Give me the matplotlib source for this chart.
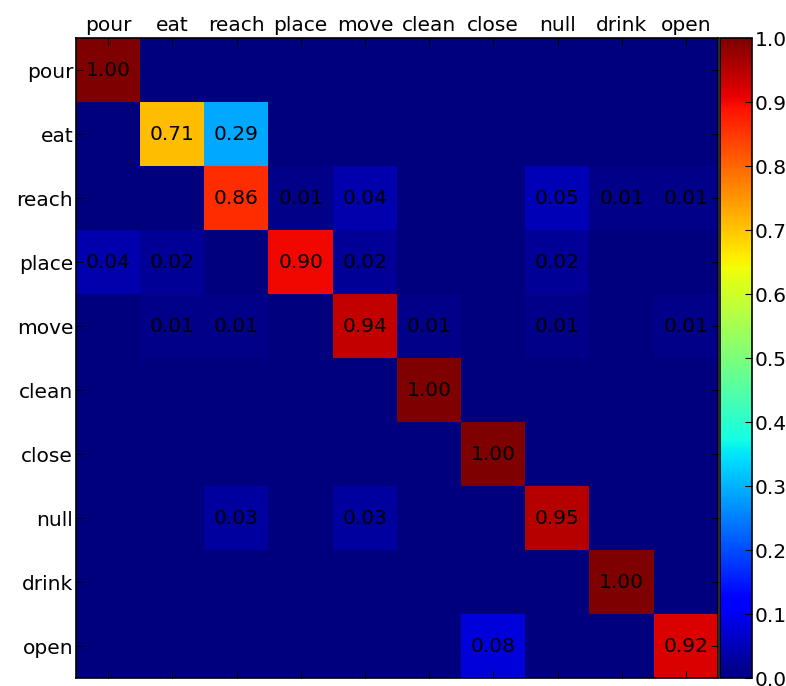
import numpy as np
import matplotlib
matplotlib.use("Agg")
import matplotlib.pyplot as plt

labels = ["pour", "eat", "reach", "place", "move", "clean", "close", "null", "drink", "open"]

row_pour  = [1.00, 0, 0, 0, 0, 0, 0, 0, 0, 0]
row_eat   = [0, 0.71, 0.29, 0, 0, 0, 0, 0, 0, 0]
row_reach = [0, 0, 0.86, 0.01, 0.04, 0, 0, 0.05, 0.01, 0.01]
row_place = [0.04, 0.02, 0, 0.90, 0.02, 0, 0, 0.02, 0, 0]
row_move  = [0, 0.01, 0.01, 0, 0.94, 0.01, 0, 0.01, 0, 0.01]
row_clean = [0, 0, 0, 0, 0, 1.00, 0, 0, 0, 0]
row_close = [0, 0, 0, 0, 0, 0, 1.00, 0, 0, 0]
row_null  = [0, 0, 0.03, 0, 0.03, 0, 0, 0.95, 0, 0]
row_drink = [0, 0, 0, 0, 0, 0, 0, 0, 1.00, 0]
row_open  = [0, 0, 0, 0, 0, 0, 0.08, 0, 0, 0.92]

cm = np.array([row_pour, row_eat, row_reach, row_place, row_move,
               row_clean, row_close, row_null, row_drink, row_open])

fig = plt.figure(figsize=(7.86, 6.86), dpi=100)
ax = fig.add_axes([76/786, 8/686, 642/786, 640/686])
cax = fig.add_axes([720/786, 8/686, 32/786, 640/686])

im = ax.imshow(cm, cmap="jet", vmin=0, vmax=1, interpolation="nearest", aspect="auto")
n = len(labels)
fs = 14.5
ax.set_xticks(range(n))
ax.set_yticks(range(n))
ax.set_xticklabels(labels, fontsize=fs)
ax.set_yticklabels(labels, fontsize=fs)
ax.xaxis.tick_top()
ax.tick_params(axis="both", direction="in", length=5, top=True, bottom=True,
               left=True, right=True, labeltop=True, labelbottom=False, pad=2)

for i in range(n):
    for j in range(n):
        v = cm[i, j]
        if v >= 0.005:
            ax.text(j, i, "%.2f" % v, ha="center", va="center", fontsize=fs, color="black")

for s in ax.spines.values():
    s.set_linewidth(1.2)

cb = fig.colorbar(im, cax=cax, ticks=np.arange(0, 1.01, 0.1))
cb.ax.set_yticklabels(["%.1f" % t for t in np.arange(0, 1.01, 0.1)], fontsize=fs)
cb.ax.tick_params(direction="in", length=5, pad=2)
cb.outline.set_linewidth(1.2)

fig.savefig("out.png", dpi=100)
